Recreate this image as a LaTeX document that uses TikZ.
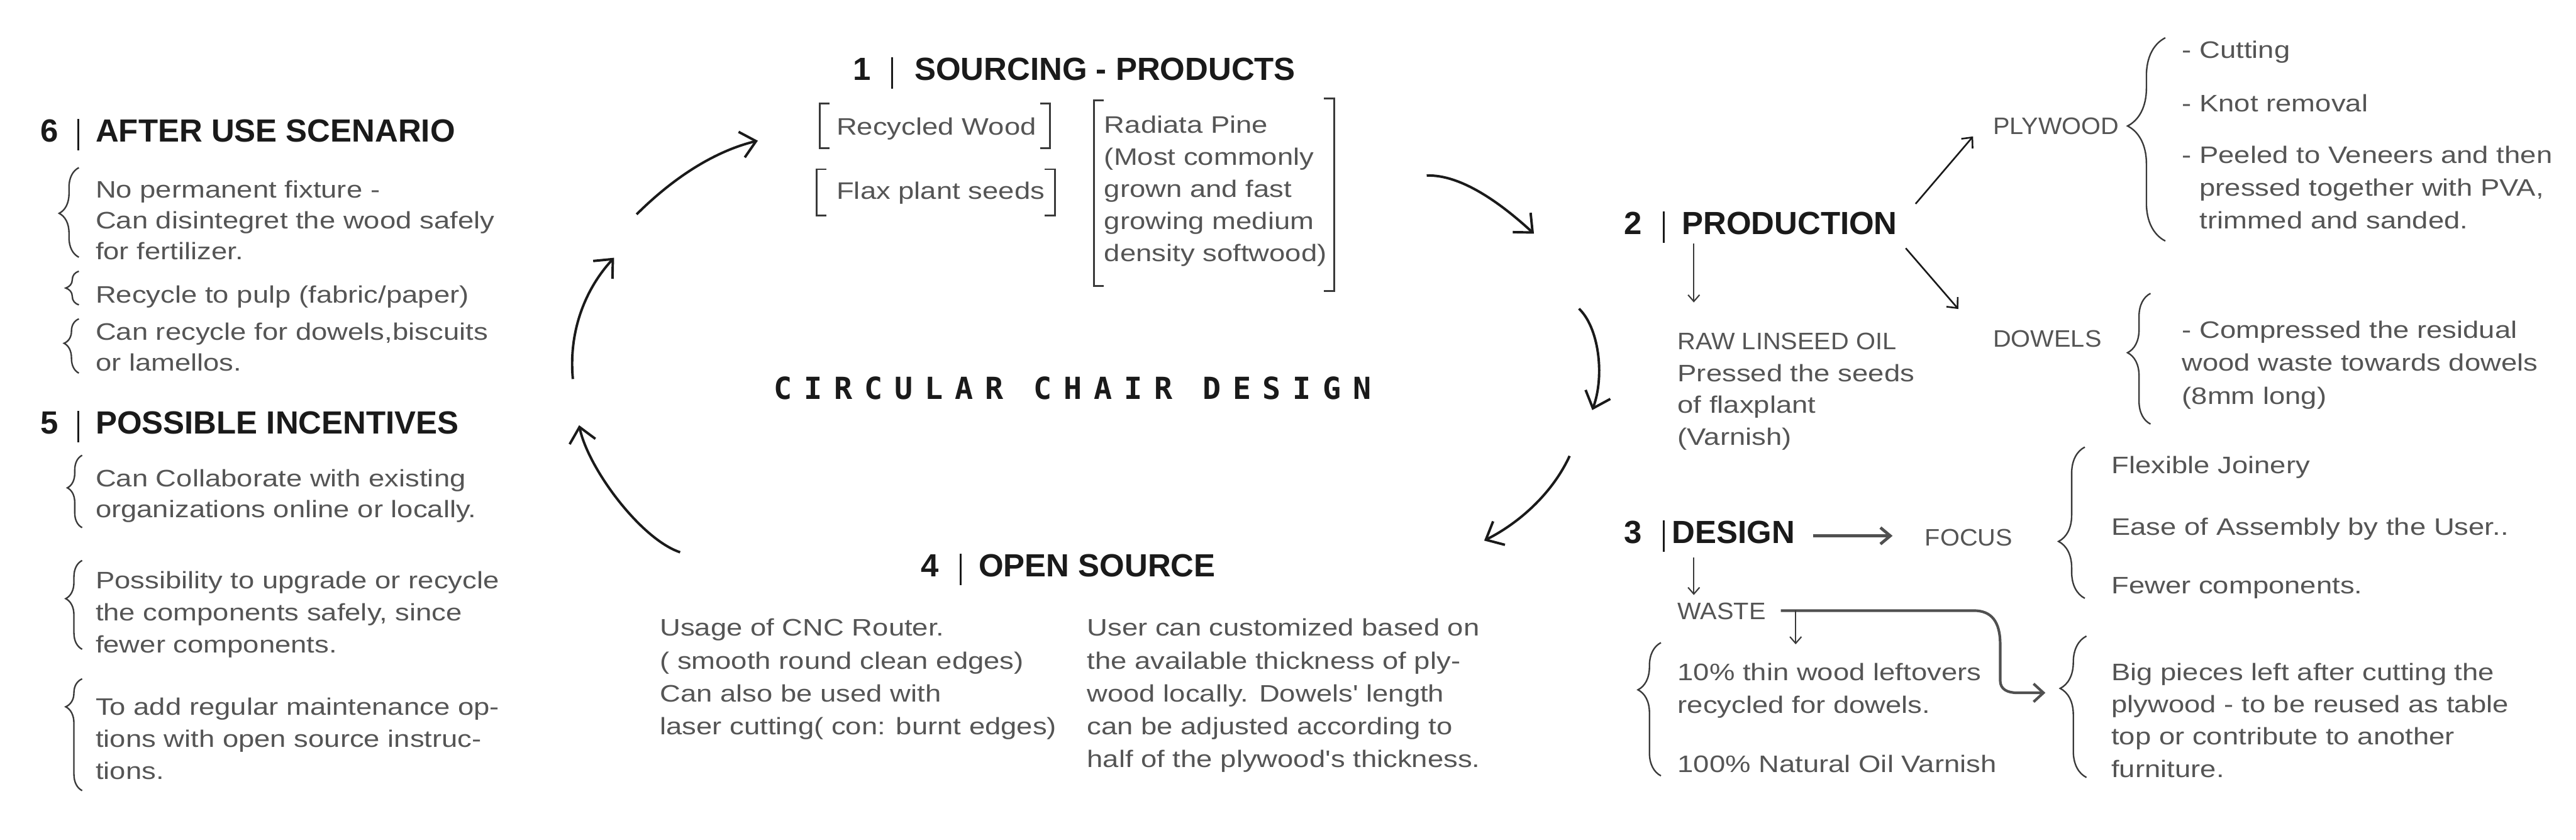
\documentclass[tikz,border=0pt]{standalone}
\usepackage{fontspec}
\setmainfont{Liberation Sans}
\newfontfamily\bodyfont{Liberation Sans}[FakeStretch=1.2]
\newfontfamily\capfont{Liberation Sans}[FakeStretch=1.05]
\newfontfamily\titlefont{DejaVu Sans Mono}[LetterSpace=39]
\usetikzlibrary{arrows.meta,decorations.pathreplacing}
\definecolor{ink}{HTML}{1A1A1A}
\definecolor{txtgray}{HTML}{555555}
\definecolor{linegray}{HTML}{3A3A3A}
\definecolor{arrgray}{HTML}{505050}
\newcommand\secbar{\rule[-5pt]{1.2pt}{19pt}}
\begin{document}
\begin{tikzpicture}[x=1pt,y=-1pt,
  body/.style={anchor=base west, inner sep=0pt, align=left, text=txtgray, font=\bodyfont\fontsize{14.5}{#1}\selectfont},
  body/.default=19.5,
  caps/.style={anchor=base west, inner sep=0pt, text=txtgray, font=\capfont\fontsize{14.5}{19.5}\selectfont},
  head/.style={anchor=base west, inner sep=0pt, text=ink, font=\bfseries\fontsize{19.5}{22}\selectfont},
  bracepath/.style={draw=linegray, line width=0.9pt, decorate, decoration={brace}},
  bkt/.style={draw=linegray, line width=1.1pt},
  cyc/.style={draw=ink, line width=1.5pt, -{Straight Barb[length=9pt,width=16pt]}},
  arr/.style={draw=ink, line width=1pt, -{Straight Barb[length=5pt,width=9pt]}},
  thinarr/.style={draw=linegray, line width=0.8pt, -{Straight Barb[length=4pt,width=7pt]}},
]
\fill[white] (0,0) rectangle (1568,510.7);
\path[use as bounding box] (0,0) rectangle (1568,510.7);

% (multi-line nodes are placed by the baseline of their last line)

% ---------- 6 AFTER USE SCENARIO ----------
\node[head] (h6) at (24.5,86.5) {6\hspace{11.5pt}\secbar\hspace{10pt}AFTER USE SCENARIO};
\node[body=18.8] (s6a) at (58,158.1) {No permanent fixture -\\Can disintegret the wood safely\\for fertilizer.};
\node[body] (s6b) at (58,184.5) {Recycle to pulp (fabric/paper)};
\node[body=18.5] (s6c) at (58,225.5) {Can recycle for dowels,biscuits\\or lamellos.};
\draw[bracepath, decoration={amplitude=12pt, aspect=0.49}] (48,156.5) -- (48,102);
\draw[bracepath, decoration={amplitude=8pt, aspect=0.5}] (48,185.5) -- (48,165);
\draw[bracepath, decoration={amplitude=9pt, aspect=0.55}] (48,227) -- (48,194);

% ---------- 5 POSSIBLE INCENTIVES ----------
\node[head] (h5) at (24.5,264) {5\hspace{11.5pt}\secbar\hspace{10pt}POSSIBLE INCENTIVES};
\node[body=19] (s5a) at (58,315) {Can Collaborate with existing\\organizations online or locally.};
\node[body] (s5b) at (58,397) {Possibility to upgrade or recycle\\the components safely, since\\fewer components.};
\node[body] (s5c) at (58,474) {To add regular maintenance op-\\tions with open source instruc-\\tions.};
\draw[bracepath, decoration={amplitude=9pt, aspect=0.55}] (50,321) -- (50,277);
\draw[bracepath, decoration={amplitude=10pt, aspect=0.57}] (50,395) -- (50,341);
\draw[bracepath, decoration={amplitude=10pt, aspect=0.75}] (50,481) -- (50,413);

% ---------- 1 SOURCING - PRODUCTS ----------
\node[head] (h1) at (519,49) {1\hspace{12.5pt}\secbar\hspace{13pt}SOURCING - PRODUCTS};
\node[body] (rw) at (509,82) {Recycled Wood};
\node[body] (fx) at (509,121) {Flax plant seeds};
\node[body] (rp) at (672,159) {Radiata Pine\\(Most commonly\\grown and fast\\growing medium\\density softwood)};
\draw[bkt] (505,63) -- (499,63) -- (499,90) -- (505,90);
\draw[bkt] (633,63) -- (639,63) -- (639,90) -- (633,90);
\draw[bkt] (503,103) -- (497,103) -- (497,131) -- (503,131);
\draw[bkt] (636,103) -- (642,103) -- (642,131) -- (636,131);
\draw[bkt] (672,61) -- (666,61) -- (666,174) -- (672,174);
\draw[bkt] (806,60) -- (812,60) -- (812,177) -- (806,177);

% ---------- centre title ----------
\node[anchor=base, inner sep=0pt, text=ink, font=\titlefont\bfseries\fontsize{18.5}{20}\selectfont] (ttl) at (653,243) {CIRCULAR CHAIR DESIGN};

% ---------- 4 OPEN SOURCE ----------
\node[head] (h4) at (560.5,351) {4\hspace{12.5pt}\secbar\hspace{10.5pt}OPEN SOURCE};
\node[body=20] (s4a) at (401.5,447) {Usage of CNC Router.\\( smooth round clean edges)\\Can also be used with\\laser cutting( con: burnt edges)};
\node[body=20] (s4b) at (661.5,467) {User can customized based on\\the available thickness of ply-\\wood locally. Dowels' length\\can be adjusted according to\\half of the plywood's thickness.};

% ---------- 2 PRODUCTION ----------
\node[head] (h2) at (988.5,142.7) {2\hspace{12.5pt}\secbar\hspace{10.5pt}PRODUCTION};
\node[caps] (ply) at (1213,81.8) {PLYWOOD};
\node[body] (c1) at (1328,35.3) {- Cutting};
\node[body] (c2) at (1328,67.8) {- Knot removal};
\node[body=19.8] (c3) at (1328,139) {- Peeled to Veneers and then\\\phantom{-~}pressed together with PVA,\\\phantom{-~}trimmed and sanded.};
\draw[bracepath, decoration={amplitude=23pt, aspect=0.566}] (1318,146.6) -- (1318,23);
\node[caps] (dow) at (1213,211) {DOWELS};
\node[body=20] (dowt) at (1328,245.8) {- Compressed the residual\\wood waste towards dowels\\(8mm long)};
\draw[bracepath, decoration={amplitude=14pt, aspect=0.546}] (1309,258) -- (1309,178.5);
\node[body] (raw) at (1021,271) {{\capfont RAW LINSEED OIL}\\Pressed the seeds\\of flaxplant\\(Varnish)};

\coordinate (pa) at (1166,124);  \coordinate (pb) at (1201,83);
\coordinate (pc) at (1160,151);  \coordinate (pd) at (1192,188);
\coordinate (pe) at (1031,148);  \coordinate (pf) at (1031,184);
\draw[arr] (pa) -- (pb);
\draw[arr] (pc) -- (pd);
\draw[thinarr] (pe) -- (pf);

% ---------- 3 DESIGN ----------
\node[head] (h3) at (988.5,330.6) {3\hspace{12.5pt}\secbar\hspace{4.5pt}DESIGN};
\node[caps] (focus) at (1171.5,332) {FOCUS};
\node[body] (f1) at (1285,288) {Flexible Joinery};
\node[body] (f2) at (1285,325.5) {Ease of Assembly by the User..};
\node[body] (f3) at (1285,361) {Fewer components.};
\draw[bracepath, decoration={amplitude=16pt, aspect=0.376}] (1269,364) -- (1269,272);
\coordinate (da) at (1103.5,326); \coordinate (db) at (1152,326);
\draw[draw=arrgray, line width=1.8pt, -{Straight Barb[length=6pt,width=10pt]}] (da) -- (db);
\coordinate (dc) at (1031,339); \coordinate (dd) at (1031,362);
\draw[thinarr] (dc) -- (dd);
\node[caps] (waste) at (1021,377) {WASTE};
\coordinate (wa) at (1084,371.5);
\coordinate (wb) at (1201.5,371.5);
\coordinate (wc) at (1217.5,392);
\coordinate (wd) at (1217.5,414);
\coordinate (we) at (1228,421.5);
\coordinate (wf) at (1245,421.5);
\draw[draw=arrgray, line width=1.6pt, -{Straight Barb[length=6pt,width=11pt]}]
  (wa) -- (wb) .. controls (1212,371.5) and (1217.5,378) .. (wc) -- (wd)
  .. controls (1217.5,419.5) and (1222,421.5) .. (we) -- (wf);
\coordinate (wg) at (1093,371.5); \coordinate (wh) at (1093,392);
\draw[thinarr] (wg) -- (wh);
\node[body=20] (wdl) at (1021,434) {10\% thin wood leftovers\\recycled for dowels.};
\node[body] (wnv) at (1021,470) {100\% Natural Oil Varnish};
\draw[bracepath, decoration={amplitude=14pt, aspect=0.646}] (1011,472) -- (1011,391);
\node[body=19.6] (big) at (1285,472.8) {Big pieces left after cutting the\\plywood - to be reused as table\\top or contribute to another\\furniture.};
\draw[bracepath, decoration={amplitude=16pt, aspect=0.63}] (1270,473) -- (1270,387);

% ---------- cycle arrows ----------
\coordinate (a1s) at (387.5,130.4); \coordinate (a1e) at (461.3,85.6);
\coordinate (a2s) at (348.7,230.6); \coordinate (a2e) at (373.8,156.8);
\coordinate (a3s) at (414,336);     \coordinate (a3e) at (352.5,258.7);
\coordinate (a4s) at (868.4,106.8); \coordinate (a4e) at (933.7,142.2);
\coordinate (a5s) at (961.1,187.8); \coordinate (a5e) at (969.2,249.5);
\coordinate (a6s) at (955.4,277.4); \coordinate (a6e) at (903.4,328.9);
\draw[cyc] (a1s) .. controls (410,108) and (435,92) .. (a1e);
\draw[cyc] (a2s) .. controls (346,202) and (356,176) .. (a2e);
\draw[cyc] (a3s) .. controls (390,328) and (358,285) .. (a3e);
\draw[cyc] (a4s) .. controls (890,106) and (915,125) .. (a4e);
\draw[cyc] (a5s) .. controls (973,199) and (977,228) .. (a5e);
\draw[cyc] (a6s) .. controls (945,300) and (925,318) .. (a6e);
\end{tikzpicture}
\end{document}
